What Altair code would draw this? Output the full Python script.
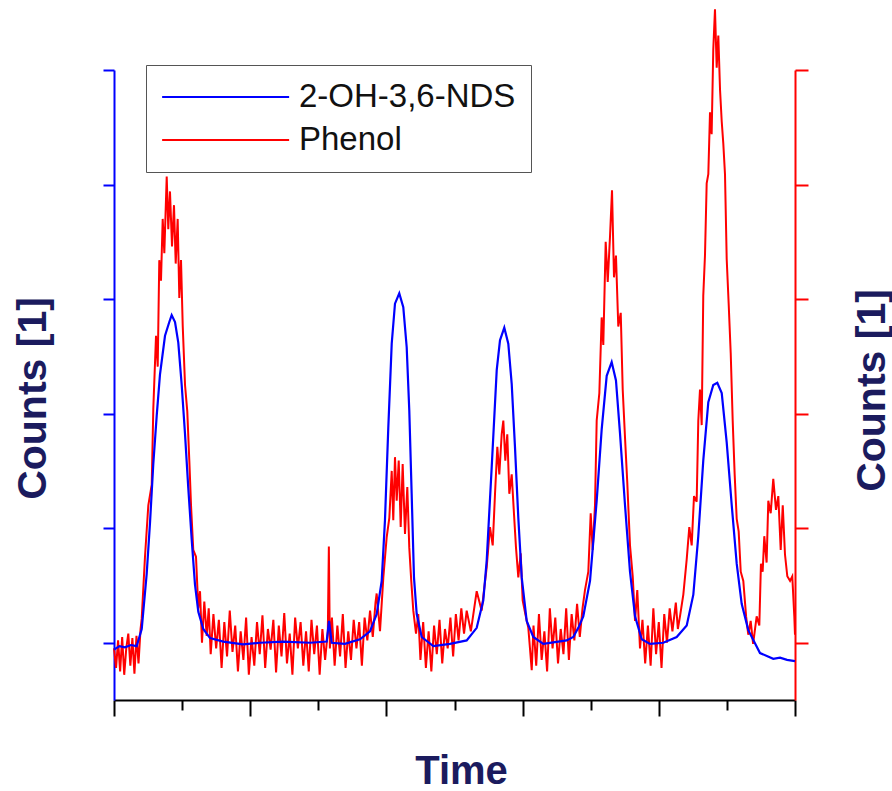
import altair as alt
import pandas as pd

series_names = ["2-OH-3,6-NDS", "Phenol"]
series_colors = ["#0000ff", "#ff0000"]

# 2-OH-3,6-NDS (left, blue axis)
blue_t = [0.00, 0.08, 0.16, 0.25, 0.333, 0.407, 0.480, 0.529, 0.577, 0.627, 0.675, 0.749, 0.812, 0.847,
          0.896, 0.944, 0.994, 1.042, 1.091, 1.141, 1.189, 1.238, 1.311, 1.410, 1.605, 1.894, 2.144,
          2.482, 2.878, 3.123, 3.157, 3.197, 3.39, 3.612, 3.759, 3.857, 3.931, 3.979, 4.028, 4.078,
          4.126, 4.189, 4.248, 4.298, 4.336, 4.371, 4.405, 4.445, 4.518, 4.689, 4.934, 5.179, 5.326,
          5.423, 5.473, 5.546, 5.620, 5.668, 5.731, 5.790, 5.840, 5.888, 5.937, 5.987, 6.060, 6.157,
          6.304, 6.647, 6.744, 6.818, 6.891, 6.990, 7.088, 7.161, 7.235, 7.308, 7.371, 7.430, 7.504,
          7.577, 7.651, 7.749, 7.871, 8.066, 8.263, 8.410, 8.507, 8.580, 8.653, 8.727, 8.800, 8.859,
          8.924, 8.997, 9.071, 9.144, 9.217, 9.314, 9.486, 9.681, 9.780, 9.883, 10.0]
blue_v = [-0.06, -0.03, -0.04, -0.02, -0.03, 0.12, 0.60, 1.05, 1.56, 1.98, 2.34, 2.68, 2.80, 2.86,
          2.80, 2.62, 2.25, 1.83, 1.35, 0.90, 0.51, 0.27, 0.12, 0.04, 0.01, -0.015, 0.00,
          0.01, 0.00, 0.01, 0.19, 0.00, -0.01, 0.03, 0.10, 0.25, 0.54, 1.07, 1.88, 2.61,
          2.96, 3.05, 2.93, 2.58, 2.03, 1.30, 0.57, 0.25, 0.05, -0.03, -0.01, 0.02, 0.13,
          0.37, 0.72, 1.53, 2.38, 2.64, 2.75, 2.61, 2.26, 1.71, 1.09, 0.57, 0.19, 0.05,
          -0.01, 0.02, 0.05, 0.13, 0.23, 0.54, 1.24, 1.86, 2.33, 2.45, 2.29, 1.83, 1.20,
          0.62, 0.23, 0.03, -0.01, 0.00, 0.05, 0.15, 0.42, 0.93, 1.59, 2.10, 2.25, 2.27,
          2.18, 1.75, 1.20, 0.69, 0.34, 0.11, -0.09, -0.14, -0.13, -0.15, -0.16]

# Phenol (right, red axis)
red_t = [0.00, 0.03, 0.06, 0.09, 0.12, 0.15, 0.18, 0.21, 0.24, 0.27, 0.30, 0.33, 0.36, 0.39,
         0.407, 0.455, 0.504, 0.554, 0.577, 0.617, 0.642, 0.665, 0.690, 0.715, 0.739, 0.774, 0.797,
         0.822, 0.852, 0.881, 0.906, 0.935, 0.959, 0.984, 1.009, 1.043, 1.076, 1.106, 1.131, 1.164,
         1.204, 1.238, 1.263, 1.292, 1.326, 1.361, 1.391,
         1.42, 1.46, 1.50, 1.54, 1.58, 1.62, 1.66, 1.70, 1.74, 1.78, 1.82, 1.86, 1.90, 1.94, 1.98,
         2.02, 2.06, 2.10, 2.14, 2.18, 2.22, 2.26, 2.30, 2.34, 2.38, 2.42, 2.46, 2.50, 2.54, 2.58,
         2.62, 2.66, 2.70, 2.74, 2.78, 2.82, 2.86, 2.90, 2.94, 2.98, 3.02, 3.06, 3.10, 3.14, 3.155,
         3.17, 3.20, 3.24, 3.28, 3.32, 3.36, 3.40, 3.44, 3.48, 3.52, 3.56, 3.60, 3.64, 3.68, 3.72,
         3.76, 3.80, 3.84,
         3.857, 3.906, 3.955, 4.004, 4.043, 4.078, 4.101, 4.126, 4.151, 4.181, 4.210, 4.239, 4.273,
         4.307, 4.336, 4.365, 4.395, 4.435, 4.468,
         4.50, 4.54, 4.58, 4.62, 4.66, 4.70, 4.74, 4.78, 4.82, 4.86, 4.90, 4.94, 4.98, 5.02, 5.06,
         5.10, 5.14,
         5.179, 5.24, 5.326, 5.399, 5.473, 5.521, 5.561, 5.595, 5.629, 5.658, 5.693, 5.717, 5.746,
         5.775, 5.805, 5.840, 5.874, 5.903, 5.937, 5.972, 6.001, 6.040, 6.084, 6.134,
         6.16, 6.20, 6.24, 6.28, 6.32, 6.36, 6.40, 6.44, 6.48, 6.52, 6.56, 6.60, 6.64, 6.68, 6.72,
         6.76, 6.80, 6.84, 6.88,
         6.916, 6.965, 7.000, 7.029, 7.063, 7.088, 7.127, 7.161, 7.185, 7.220, 7.250, 7.283, 7.313,
         7.342, 7.371, 7.405, 7.441, 7.470, 7.504, 7.537, 7.577, 7.617, 7.651, 7.684, 7.724,
         7.76, 7.80, 7.84, 7.88, 7.92, 7.96, 8.00, 8.04, 8.08, 8.12, 8.16, 8.20, 8.25, 8.28,
         8.311, 8.360, 8.410, 8.448, 8.483, 8.517, 8.556, 8.580, 8.605, 8.630, 8.653, 8.678, 8.703,
         8.727, 8.752, 8.776, 8.800, 8.825, 8.850, 8.874, 8.899, 8.924, 8.947, 8.972, 8.997, 9.026,
         9.056, 9.085, 9.114, 9.144, 9.173, 9.203, 9.241, 9.282, 9.314, 9.349, 9.385, 9.437, 9.476,
         9.500, 9.525, 9.549, 9.583, 9.608, 9.643, 9.681, 9.721, 9.755, 9.790, 9.820, 9.853, 9.887,
         9.927, 9.960, 9.990, 10.0]
red_v = [-0.05, -0.22, 0.02, -0.25, 0.05, -0.28, -0.05, 0.08, -0.20, 0.04, -0.27, 0.06, -0.18, 0.12,
         0.21, 0.75, 1.20, 1.38, 2.04, 2.68, 2.41, 3.34, 3.16, 3.70, 3.40, 4.07, 3.61,
         3.94, 3.46, 3.82, 3.31, 3.70, 3.01, 3.34, 2.77, 2.25, 2.02, 1.59, 1.20, 0.81,
         0.75, 0.30, 0.45, 0.00, 0.36, 0.06, 0.30,
         -0.10, 0.25, -0.05, 0.20, -0.22, 0.18, -0.12, 0.28, -0.08, 0.15, -0.25, 0.10, -0.15, 0.22, -0.28,
         0.05, -0.20, 0.18, -0.10, 0.24, -0.22, 0.12, -0.06, 0.20, -0.26, 0.15, -0.12, 0.26, -0.18, 0.08,
         -0.28, 0.22, -0.05, 0.18, -0.20, 0.10, -0.25, 0.20, -0.10, 0.15, -0.28, 0.12, -0.15, 0.10, 0.84,
         -0.05, 0.22, -0.20, 0.15, -0.12, 0.25, -0.22, 0.10, -0.15, 0.20, -0.05, 0.18, -0.20, 0.22, 0.02,
         0.28, 0.05, 0.35,
         0.43, 0.10, 0.57, 0.92, 1.09, 1.50, 1.07, 1.62, 1.24, 1.59, 1.01, 1.56, 0.95,
         1.36, 0.83, 0.54, 0.28, 0.08, 0.25,
         -0.15, 0.18, -0.22, 0.10, -0.25, 0.15, -0.10, 0.20, -0.18, 0.12, -0.05, 0.22, -0.12, 0.25, 0.02,
         0.30, 0.08,
         0.28, 0.10, 0.45, 0.28, 0.66, 1.01, 0.85, 1.30, 1.71, 1.47, 1.82, 1.94, 1.59,
         1.82, 1.30, 1.47, 1.12, 0.83, 0.57, 0.78, 0.37, 0.25, 0.13, -0.24,
         0.15, -0.20, 0.25, -0.15, 0.10, -0.25, 0.30, -0.05, 0.22, -0.18, 0.12, -0.10, 0.30, -0.15, 0.25,
         0.02, 0.34, 0.05, 0.30,
         0.46, 0.62, 1.13, 0.81, 1.20, 1.94, 2.18, 2.84, 2.60, 3.50, 3.15, 3.54, 3.95,
         3.19, 3.38, 2.76, 2.88, 2.21, 1.79, 1.40, 0.85, 0.58, 0.19, 0.46, -0.05,
         0.20, -0.18, 0.15, -0.20, 0.30, -0.10, 0.18, -0.22, 0.25, 0.00, 0.30, 0.10, 0.35, 0.12,
         0.23, 0.42, 0.73, 1.01, 0.85, 1.28, 1.23, 1.94, 2.21, 1.90, 3.03, 3.38, 4.01,
         4.09, 4.63, 4.44, 5.18, 5.53, 5.02, 5.30, 4.83, 4.55, 4.36, 4.09, 3.35, 2.96,
         2.53, 1.94, 1.47, 1.08, 0.97, 0.62, 0.54, 0.23, 0.07, 0.19, -0.01, 0.23, 0.15,
         0.69, 0.62, 0.93, 0.70, 1.24, 1.13, 1.43, 1.16, 1.28, 0.81, 1.20, 0.77, 0.58,
         0.54, 0.58, 0.23, 0.07]

x_ticks = [0, 1, 2, 3, 4, 5, 6, 7, 8, 9, 10]
y_ticks = [0, 1, 2, 3, 4, 5]

navy = "#1b1b5e"
font = "Liberation Sans"

df = pd.DataFrame({
    "t": blue_t + red_t,
    "v": blue_v + red_v,
    "series": [series_names[0]] * len(blue_t) + [series_names[1]] * len(red_t),
})

legend = alt.Legend(
    title=None, orient="none", legendX=32, legendY=-5,
    symbolType="M-1,0H7", symbolSize=1008, symbolStrokeWidth=2,
    labelFontSize=33, labelFont=font, labelColor="#111111", labelOffset=104, labelLimit=0,
    padding=15, rowPadding=9, strokeColor="#555555", fillColor="white",
)
color = alt.Color("series:N", scale=alt.Scale(domain=series_names, range=series_colors), legend=legend)

x_enc = alt.X(
    "t:Q",
    scale=alt.Scale(domain=[0, 10], nice=False, zero=False),
    axis=alt.Axis(
        values=x_ticks, labels=False, grid=False,
        tickSize={"condition": {"test": "datum.value % 2 === 0", "value": 16}, "value": 10},
        tickColor="black", tickWidth=2, domainColor="black", domainWidth=2,
        title="Time", titleFontSize=40, titleFont=font, titleFontWeight="bold", titleColor=navy,
        titleX=347, titleY=83, titleAlign="center", titleBaseline="alphabetic",
    ),
)

base = alt.Chart(df)

red = base.transform_filter(alt.datum.series == series_names[1]).mark_line(strokeWidth=2).encode(
    x=x_enc,
    y=alt.Y("v:Q", scale=alt.Scale(domain=[-0.5, 5], nice=False, zero=False),
            axis=alt.Axis(orient="right", values=y_ticks, labels=False, grid=False, tickSize=13,
                          tickColor="#ff0000", tickWidth=2, domainColor="#ff0000", domainWidth=2,
                          title="Counts [1]", titleFontSize=41, titleFont=font, titleFontWeight="bold",
                          titleColor=navy, titleAngle=270, titleX=77, titleY=320,
                          titleAlign="center", titleBaseline="middle")),
    color=color,
)

blue = base.transform_filter(alt.datum.series == series_names[0]).mark_line(strokeWidth=2.2).encode(
    x=x_enc,
    y=alt.Y("v:Q", scale=alt.Scale(domain=[-0.5, 5], nice=False, zero=False),
            axis=alt.Axis(orient="left", values=y_ticks, labels=False, grid=False, tickSize=11,
                          tickColor="#0000ff", tickWidth=2, domainColor="#0000ff", domainWidth=2,
                          title="Counts [1]", titleFontSize=41, titleFont=font, titleFontWeight="bold",
                          titleColor=navy, titleAngle=270, titleX=-81, titleY=328,
                          titleAlign="center", titleBaseline="middle")),
    color=color,
)

chart = alt.layer(red, blue).resolve_scale(y="independent").properties(
    width=681, height=630,
    autosize=alt.AutoSizeParams(type="none"),
    padding={"left": 114, "top": 70, "right": 97, "bottom": 91},
    background="white",
).configure_view(stroke=None)

chart.save("out.html", embed_options={"renderer": "svg", "actions": False})
